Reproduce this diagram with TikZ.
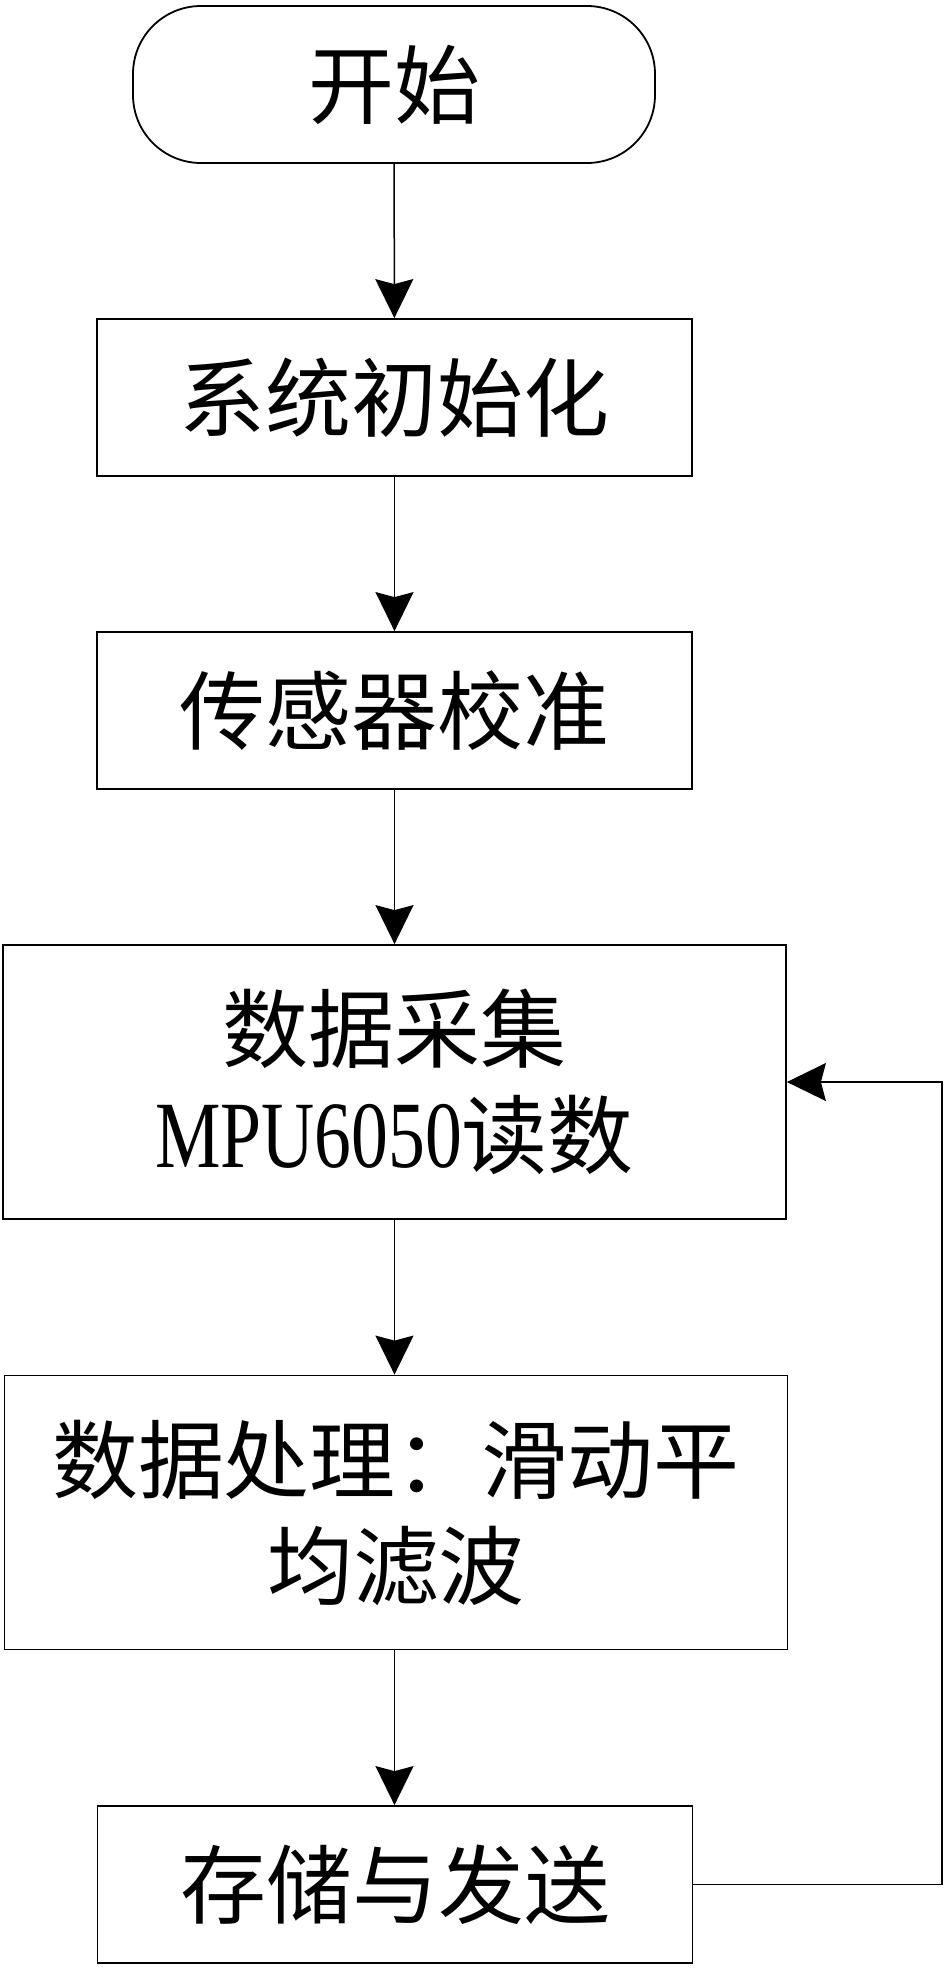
\documentclass[tikz,border=0pt]{standalone}
\usepackage{fontspec}
\newfontfamily\cjk{Noto Sans CJK SC}
\newfontfamily\latinnarrow{Liberation Serif}
\usetikzlibrary{arrows.meta,calc}
\newcommand{\narrowtxt}[1]{\scalebox{0.775}[1]{\latinnarrow\fontsize{95}{106}\selectfont #1}}
\begin{document}
\begin{tikzpicture}[x=1pt,y=-1pt,
  every node/.style={font=\cjk\fontsize{86}{106}\selectfont, align=center, inner sep=0pt},
  procbox/.style={draw, line width=1.8pt, minimum width=595pt, minimum height=157pt},
  widebox/.style={draw, line width=1.8pt, minimum width=783pt, minimum height=274pt},
  termbox/.style={draw, line width=1.8pt, rounded corners=68pt, minimum width=522pt, minimum height=157pt},
  arr/.style={line width=1.5pt, -{Stealth[length=39pt,width=38pt,inset=5pt]}}]
\useasboundingbox (0,0) rectangle (946,1968);
\node[termbox] (s1) at (394,84.5) {开始};
\node[procbox] (s2) at (394.5,397.5) {系统初始化};
\node[procbox] (s3) at (394.5,710.5) {传感器校准};
\node[widebox] (s4) at (394.5,1082) {数据采集\\\narrowtxt{MPU6050}读数};
\node[widebox] (s5) at (396,1512.5) {数据处理：滑动平\\均滤波};
\node[procbox] (s6) at (395,1884.5) {存储与发送};
\coordinate (fb) at (942,1884.5);
\draw[arr] (s1) -- (s2);
\draw[arr] (s2) -- (s3);
\draw[arr] (s3) -- (s4);
\draw[arr] (s4.south -| s2) -- (s5.north -| s2);
\draw[arr] (s5.south -| s2) -- (s6.north -| s2);
\draw[arr] (s6.east) -- (fb) |- (s4.east);
\end{tikzpicture}
\end{document}
